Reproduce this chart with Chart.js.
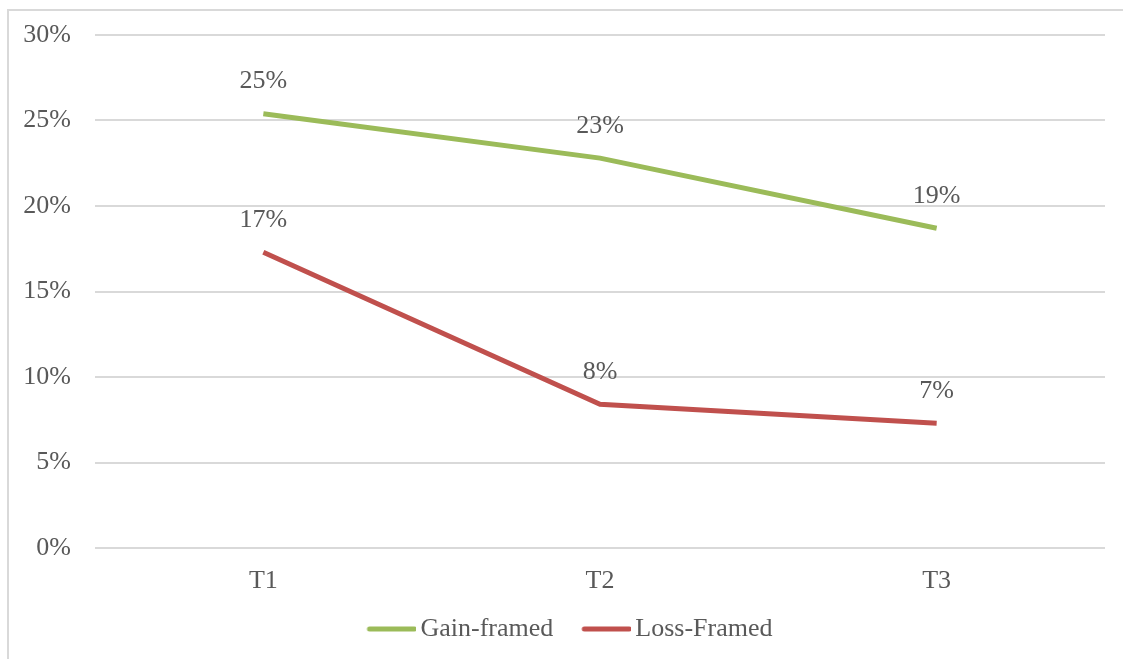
<!DOCTYPE html>
<html>
<head>
<meta charset="utf-8">
<script src="https://cdn.jsdelivr.net/npm/chart.js@4"></script>
<style>
    html, body { margin: 0; padding: 0; background: #fff; overflow: hidden; }
    .frame {
        position: absolute; left: 7px; top: 9px; width: 1200px; height: 700px;
        border-top: 2px solid #d9d9d9; border-left: 2px solid #d9d9d9;
    }
    .chart-container { position: absolute; left: 0; top: 0; width: 1123px; height: 659px; }
</style>
</head>
<body>
<div class="frame"></div>
<div class="chart-container"><canvas id="lineChart"></canvas></div>
<script>
// Chart data
const periods = ['T1', 'T2', 'T3'];
const gainFramed = [25.4, 22.8, 18.7];
const lossFramed = [17.3, 8.4, 7.3];
const yTicks = [0, 5, 10, 15, 20, 25, 30];

const textColor = '#595959';
const fontFamily = '"Liberation Serif", "Times New Roman", serif';
const fontSize = 26;

// Legend marker: a thick line with some empty room on its left,
// drawn close to the label text (box width is 47 in the legend)
function legendLine(color) {
    const c = document.createElement('canvas');
    c.width = 65;
    c.height = 6;
    const g = c.getContext('2d');
    g.strokeStyle = color;
    g.lineWidth = 5;
    g.lineCap = 'round';
    g.beginPath();
    g.moveTo(18, 3);
    g.lineTo(63, 3);
    g.stroke();
    return c;
}

// Draw the rounded value above each point
const valueLabels = {
    id: 'valueLabels',
    afterDatasetsDraw(chart) {
        const ctx = chart.ctx;
        ctx.save();
        ctx.font = fontSize + 'px ' + fontFamily;
        ctx.fillStyle = textColor;
        ctx.textAlign = 'center';
        ctx.textBaseline = 'middle';
        chart.data.datasets.forEach((ds, i) => {
            chart.getDatasetMeta(i).data.forEach((pt, j) => {
                ctx.fillText(Math.round(ds.data[j]) + '%', pt.x, pt.y - 32);
            });
        });
        ctx.restore();
    }
};

// The legend in the original sits a little right of centre
const legendShift = {
    id: 'legendShift',
    afterLayout(chart) {
        if (chart.legend) chart.legend.left += 28;
    }
};

const ctx = document.getElementById('lineChart').getContext('2d');
new Chart(ctx, {
    type: 'line',
    data: {
        labels: periods,
        datasets: [
            {
                label: 'Gain-framed',
                data: gainFramed,
                borderColor: '#9bbb59',
                backgroundColor: '#9bbb59',
                borderWidth: 5,
                pointRadius: 0,
                pointStyle: legendLine('#9bbb59'),
                tension: 0
            },
            {
                label: 'Loss-Framed',
                data: lossFramed,
                borderColor: '#c0504d',
                backgroundColor: '#c0504d',
                borderWidth: 5,
                pointRadius: 0,
                pointStyle: legendLine('#c0504d'),
                tension: 0
            }
        ]
    },
    options: {
        responsive: true,
        maintainAspectRatio: false,
        animation: false,
        layout: { padding: { top: 35, left: 0, right: 18, bottom: 7 } },
        plugins: {
            tooltip: { enabled: false },
            legend: {
                position: 'bottom',
                labels: {
                    usePointStyle: true,
                    pointStyleWidth: 47,
                    padding: 22,
                    color: textColor,
                    font: { family: fontFamily, size: fontSize }
                }
            }
        },
        scales: {
            x: {
                offset: true,
                grid: { display: false, drawTicks: false },
                border: { display: false },
                ticks: {
                    color: textColor,
                    padding: 18,
                    font: { family: fontFamily, size: fontSize }
                },
                afterFit: (scale) => { scale.height = 46; }
            },
            y: {
                min: 0,
                max: 30,
                afterBuildTicks: (scale) => { scale.ticks = yTicks.map(v => ({ value: v })); },
                grid: { color: '#d9d9d9', lineWidth: 2, drawTicks: false },
                border: { display: false },
                ticks: {
                    color: textColor,
                    padding: 24,
                    font: { family: fontFamily, size: fontSize },
                    callback: (v) => v + '%'
                },
                afterFit: (scale) => {
                    scale.width = 95;
                    scale.paddingTop = 0;
                    scale.paddingBottom = 0;
                }
            }
        }
    },
    plugins: [valueLabels, legendShift]
});
</script>
</body>
</html>
